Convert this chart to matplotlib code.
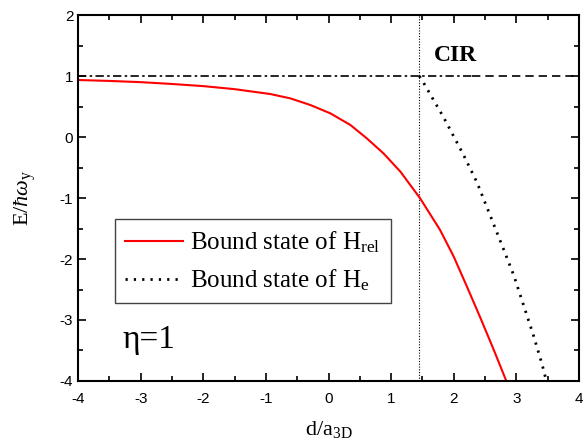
import numpy as np
import matplotlib
matplotlib.use("Agg")
import matplotlib.pyplot as plt

plt.rcParams['mathtext.fontset'] = 'custom'
plt.rcParams['mathtext.rm'] = 'Liberation Serif'
plt.rcParams['mathtext.it'] = 'Liberation Serif:italic'
plt.rcParams['axes.unicode_minus'] = False

# bound state of H_rel (red curve)
x_rel = [-4.0, -3.5, -3.0, -2.5, -2.0, -1.5, -1.25, -0.93, -0.61, -0.29,
         0.03, 0.35, 0.61, 0.88, 1.15, 1.46, 1.78, 2.0, 2.21, 2.42, 2.64, 2.84]
E_rel = [0.935, 0.92, 0.90, 0.87, 0.835, 0.785, 0.75, 0.705, 0.634, 0.525,
         0.388, 0.197, -0.02, -0.27, -0.57, -1.0, -1.52, -1.96, -2.45, -2.95,
         -3.49, -4.0]

# bound state of H_e (dotted curve), starts at the CIR
x_e = [1.45, 1.49, 1.84, 2.15, 2.37, 2.58, 2.80, 2.96, 3.11, 3.27, 3.41, 3.48]
E_e = [1.0, 0.94, 0.32, -0.28, -0.74, -1.28, -1.85, -2.27, -2.74, -3.24,
       -3.72, -4.0]

# threshold and CIR position
E_thr = 1.0
d_cir = 1.45

fig = plt.figure(figsize=(5.83, 4.43), dpi=100)
ax = fig.add_axes([0.134, 0.140, 0.859, 0.826])

ax.plot([-4, 2.3], [E_thr, E_thr], color='k', lw=1.2, dashes=(5, 2, 1.5, 2))
ax.plot([2.3, 4], [E_thr, E_thr], color='k', lw=1.2, dashes=(5, 3))
ax.plot([d_cir, d_cir], [-4, 2], color='k', lw=0.8, dashes=(1, 1.5))

ax.plot(x_rel, E_rel, color='red', lw=1.5, label=r'Bound state of H$_{\rm rel}$')
ax.plot(x_e, E_e, color='k', lw=2.0, dashes=(0.8, 2.2),
        label=r'Bound state of H$_{\rm e}$')

ax.set_xlim(-4, 4)
ax.set_ylim(-4, 2)
ax.set_xticks(np.arange(-4, 5, 1))
ax.set_yticks(np.arange(-4, 3, 1))
ax.set_xticks(np.arange(-3.5, 4, 1), minor=True)
ax.set_yticks(np.arange(-3.5, 2, 1), minor=True)
ax.tick_params(which='both', direction='in', top=True, right=True, width=1.2,
               labelsize=11)
ax.tick_params(which='major', length=6)
ax.tick_params(which='minor', length=3.5)
for lbl in ax.get_xticklabels() + ax.get_yticklabels():
    lbl.set_family('Liberation Sans')
ax.tick_params(axis='x', pad=8)
for s in ax.spines.values():
    s.set_linewidth(1.5)

ax.set_xlabel(r'd/a$_{\rm 3D}$', family='Liberation Serif', fontsize=16,
              labelpad=9)
ax.set_ylabel(r'E/$\hbar\omega_{\rm y}$', family='Liberation Serif', fontsize=16,
              labelpad=16)

ax.text(2.03, 1.33, 'CIR', family='Liberation Serif', fontweight='bold',
        fontsize=17, ha='center', va='center')
ax.text(-3.3, -3.33, 'η=1', family='Liberation Serif', fontsize=24,
        ha='left', va='center')

leg = ax.legend(loc='lower left', bbox_to_anchor=(0.074, 0.213),
                borderaxespad=0, fancybox=False, framealpha=1,
                edgecolor='#444444', handlelength=2.3, handletextpad=0.3,
                borderpad=0.4, prop={'family': 'Liberation Serif', 'size': 18})
leg.get_frame().set_linewidth(1.0)

fig.savefig('out.png', dpi=100)
